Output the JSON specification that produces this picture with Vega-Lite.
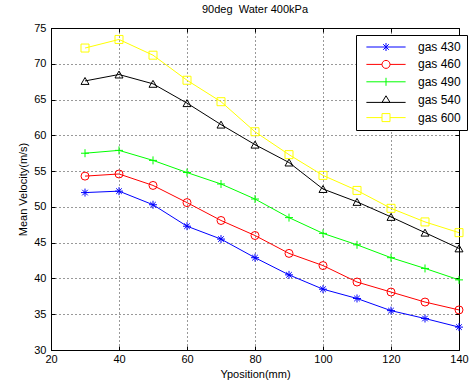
{
  "$schema": "https://vega.github.io/schema/vega-lite/v6.json",
  "width": 408,
  "height": 322,
  "autosize": {"type": "none"},
  "padding": {"left": 51, "top": 28, "right": 13, "bottom": 35},
  "background": "white",
  "title": {"text": "90deg \u00a0Water 400kPa", "fontSize": 11, "fontWeight": "normal", "font": "Liberation Sans", "color": "#000000", "offset": 7},
  "config": {
    "view": {"stroke": "#000000", "strokeWidth": 1},
    "font": "Liberation Sans",
    "axis": {
      "labelFont": "Liberation Sans", "labelFontSize": 11, "labelColor": "#000000",
      "titleFont": "Liberation Sans", "titleFontSize": 11, "titleFontWeight": "normal", "titleColor": "#000000",
      "domainColor": "#000000", "tickColor": "#000000", "tickSize": 5,
      "gridColor": "#000000", "gridDash": [1, 3], "gridOpacity": 0.8, "gridWidth": 1
    }
  },
  "resolve": {"axis": {"x": "independent", "y": "independent"}},
  "data": {"values": [
    {"y": 30, "v": 52.0, "s": "gas 430"}, {"y": 40, "v": 52.2, "s": "gas 430"}, {"y": 50, "v": 50.3, "s": "gas 430"}, {"y": 60, "v": 47.3, "s": "gas 430"}, {"y": 70, "v": 45.5, "s": "gas 430"}, {"y": 80, "v": 42.9, "s": "gas 430"}, {"y": 90, "v": 40.5, "s": "gas 430"}, {"y": 100, "v": 38.5, "s": "gas 430"}, {"y": 110, "v": 37.2, "s": "gas 430"}, {"y": 120, "v": 35.5, "s": "gas 430"}, {"y": 130, "v": 34.4, "s": "gas 430"}, {"y": 140, "v": 33.2, "s": "gas 430"},
    {"y": 30, "v": 54.3, "s": "gas 460"}, {"y": 40, "v": 54.6, "s": "gas 460"}, {"y": 50, "v": 53.0, "s": "gas 460"}, {"y": 60, "v": 50.6, "s": "gas 460"}, {"y": 70, "v": 48.1, "s": "gas 460"}, {"y": 80, "v": 46.0, "s": "gas 460"}, {"y": 90, "v": 43.5, "s": "gas 460"}, {"y": 100, "v": 41.8, "s": "gas 460"}, {"y": 110, "v": 39.5, "s": "gas 460"}, {"y": 120, "v": 38.1, "s": "gas 460"}, {"y": 130, "v": 36.7, "s": "gas 460"}, {"y": 140, "v": 35.6, "s": "gas 460"},
    {"y": 30, "v": 57.5, "s": "gas 490"}, {"y": 40, "v": 57.9, "s": "gas 490"}, {"y": 50, "v": 56.5, "s": "gas 490"}, {"y": 60, "v": 54.8, "s": "gas 490"}, {"y": 70, "v": 53.2, "s": "gas 490"}, {"y": 80, "v": 51.1, "s": "gas 490"}, {"y": 90, "v": 48.5, "s": "gas 490"}, {"y": 100, "v": 46.3, "s": "gas 490"}, {"y": 110, "v": 44.7, "s": "gas 490"}, {"y": 120, "v": 42.9, "s": "gas 490"}, {"y": 130, "v": 41.4, "s": "gas 490"}, {"y": 140, "v": 39.8, "s": "gas 490"},
    {"y": 30, "v": 67.6, "s": "gas 540"}, {"y": 40, "v": 68.5, "s": "gas 540"}, {"y": 50, "v": 67.2, "s": "gas 540"}, {"y": 60, "v": 64.5, "s": "gas 540"}, {"y": 70, "v": 61.5, "s": "gas 540"}, {"y": 80, "v": 58.7, "s": "gas 540"}, {"y": 90, "v": 56.2, "s": "gas 540"}, {"y": 100, "v": 52.5, "s": "gas 540"}, {"y": 110, "v": 50.7, "s": "gas 540"}, {"y": 120, "v": 48.6, "s": "gas 540"}, {"y": 130, "v": 46.4, "s": "gas 540"}, {"y": 140, "v": 44.2, "s": "gas 540"},
    {"y": 30, "v": 72.2, "s": "gas 600"}, {"y": 40, "v": 73.4, "s": "gas 600"}, {"y": 50, "v": 71.2, "s": "gas 600"}, {"y": 60, "v": 67.7, "s": "gas 600"}, {"y": 70, "v": 64.7, "s": "gas 600"}, {"y": 80, "v": 60.5, "s": "gas 600"}, {"y": 90, "v": 57.3, "s": "gas 600"}, {"y": 100, "v": 54.4, "s": "gas 600"}, {"y": 110, "v": 52.3, "s": "gas 600"}, {"y": 120, "v": 49.8, "s": "gas 600"}, {"y": 130, "v": 47.9, "s": "gas 600"}, {"y": 140, "v": 46.4, "s": "gas 600"}
  ]},
  "encoding": {
    "x": {"field": "y", "type": "quantitative", "scale": {"domain": [20, 140], "nice": false, "zero": false}, "axis": null},
    "y": {"field": "v", "type": "quantitative", "scale": {"domain": [30, 75], "nice": false, "zero": false}, "axis": null},
    "color": {"field": "s", "type": "nominal",
      "scale": {"domain": ["gas 430", "gas 460", "gas 490", "gas 540", "gas 600"], "range": ["#0000ff", "#ff0000", "#00ff00", "#000000", "#ffff00"]},
      "legend": {
        "title": null, "orient": "none", "legendX": 305, "legendY": 7,
        "strokeColor": "#000000", "fillColor": "#ffffff", "padding": 6,
        "labelFont": "Liberation Sans", "labelFontSize": 12, "labelColor": "#000000",
        "symbolSize": 64, "symbolStrokeWidth": 1, "labelOffset": 26, "rowPadding": 5.4, "symbolOffset": 18,
        "encode": {"symbols": {"update": {
          "shape": {"signal": "datum.value == 'gas 430' ? 'M-4.9,0L4.9,0M0,-1L0,1M-0.7,-0.7L0.7,0.7M-0.7,0.7L0.7,-0.7' : datum.value == 'gas 460' ? 'M-4.9,0L-1,0A1,1,0,1,1,1,0A1,1,0,1,1,-1,0M1,0L4.9,0' : datum.value == 'gas 490' ? 'M-4.9,0L4.9,0M0,-1L0,1' : datum.value == 'gas 540' ? 'M-4.9,0.55L4.9,0.55M0,-1.1L-1,0.55L1,0.55Z' : 'M-4.9,0L-1,0M1,0L4.9,0M-1,-1L1,-1L1,1L-1,1Z'"},
          "stroke": {"signal": "scale('color', datum.value)"},
          "fill": {"value": "transparent"}
        }}}
      }
    }
  },
  "layer": [
    {"mark": {"type": "point", "opacity": 0, "size": 1},
      "encoding": {
        "x": {"field": "y", "type": "quantitative",
          "axis": {"orient": "top", "values": [20, 40, 60, 80, 100, 120, 140], "labels": false, "title": null, "tickSize": -4, "grid": false, "domain": false}},
        "y": {"field": "v", "type": "quantitative",
          "axis": {"orient": "right", "values": [30, 35, 40, 45, 50, 55, 60, 65, 70, 75], "labels": false, "title": null, "tickSize": -4, "grid": false, "domain": false}}
      }},
    {"mark": {"type": "line", "strokeWidth": 1},
      "encoding": {
        "x": {"field": "y", "type": "quantitative",
          "axis": {"orient": "bottom", "values": [20, 40, 60, 80, 100, 120, 140], "title": "Yposition(mm)", "titlePadding": 4, "labelPadding": 7, "tickSize": -4, "labelFlush": false, "grid": true}},
        "y": {"field": "v", "type": "quantitative",
          "axis": {"orient": "left", "values": [30, 35, 40, 45, 50, 55, 60, 65, 70, 75], "title": "Mean Velocity(m/s)", "titlePadding": 5, "labelPadding": 9, "tickSize": -4, "grid": true}}
      }},
    {"transform": [{"filter": "datum.s == 'gas 430'"}],
      "mark": {"type": "point", "filled": false, "strokeWidth": 1, "opacity": 1, "size": 64, "shape": "M-1,0L1,0M0,-1L0,1M-0.7,-0.7L0.7,0.7M-0.7,0.7L0.7,-0.7"}},
    {"transform": [{"filter": "datum.s == 'gas 460'"}],
      "mark": {"type": "point", "filled": false, "strokeWidth": 1, "opacity": 1, "size": 64, "shape": "circle"}},
    {"transform": [{"filter": "datum.s == 'gas 490'"}],
      "mark": {"type": "point", "filled": false, "strokeWidth": 1, "opacity": 1, "size": 64, "shape": "M-1,0L1,0M0,-1L0,1"}},
    {"transform": [{"filter": "datum.s == 'gas 540'"}],
      "mark": {"type": "point", "filled": false, "strokeWidth": 1, "opacity": 1, "size": 64, "shape": "triangle-up"}},
    {"transform": [{"filter": "datum.s == 'gas 600'"}],
      "mark": {"type": "point", "filled": false, "strokeWidth": 1, "opacity": 1, "size": 64, "shape": "square"}}
  ]
}
